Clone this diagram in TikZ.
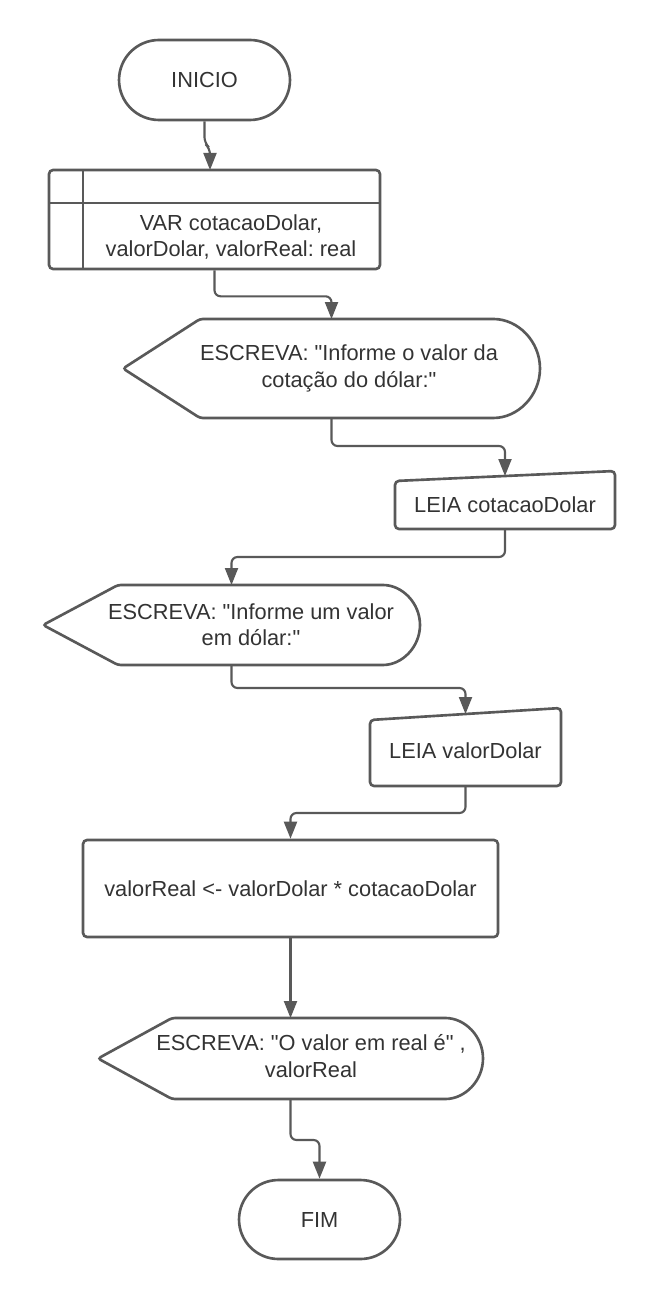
\documentclass[tikz,border=0pt]{standalone}
\usepackage{fontspec}
\setmainfont{Liberation Sans}[Ligatures=TeXOff]
\frenchspacing
\usetikzlibrary{arrows.meta,calc}
\definecolor{ln}{HTML}{595959}
\definecolor{tx}{HTML}{333333}
\begin{document}
\begin{tikzpicture}[x=0.02cm,y=-0.02cm,
  shp/.style={draw=ln, line width=1.5pt, fill=white},
  box/.style={shp, rounded corners=0.08cm, inner sep=0pt},
  ghost/.style={inner sep=0pt, outer sep=0pt, draw=none},
  txt/.style={text=tx, font=\fontsize{12.4}{15}\selectfont\frenchspacing, align=center},
  conn/.style={draw=ln, line width=1.2pt, rounded corners=0.12cm, -{Triangle[width=0.26cm,length=0.34cm]}}]

\useasboundingbox[fill=white] (0,0) rectangle (655,1300);

% INICIO
\node[shp, txt, inner sep=0pt, minimum width=3.42cm, minimum height=1.6cm, rounded corners=0.8cm] (ini) at (204.5,80) {INICIO};

% VAR box
\node[box, minimum width=6.62cm, minimum height=1.98cm] (var) at (214.5,219.5) {};
\draw[draw=ln, line width=1.5pt] (49,203) -- (380,203);
\draw[draw=ln, line width=1.5pt] (83,170) -- (83,269);
\node[txt] (vart) at (231,237) {VAR cotacaoDolar,\\valorDolar, valorReal: real};

% Display 1
\node[ghost, minimum width=8.34cm, minimum height=1.98cm] (d1) at (331.5,368.5) {};
\draw[shp, rounded corners=0.06cm] (d1.west) -- (200,319) -- (490.5,319) arc[start angle=90, end angle=-90, radius=0.99cm] -- (200,418) -- cycle;
\node[txt] (d1t) at (349,368.5) {ESCREVA: "Informe o valor da\\cotação do dólar:"};

% LEIA 1
\node[ghost, minimum width=4.4cm, minimum height=1.16cm] (l1) at (505,500) {};
\draw[shp, rounded corners=0.08cm] (395,481) -- (615,471) -- (615,529) -- (395,529) -- cycle;
\node[txt] (l1t) at (505,505) {LEIA cotacaoDolar};
\coordinate (l1in) at (505,476);

% Display 2
\node[ghost, minimum width=7.54cm, minimum height=1.6cm] (d2) at (231.5,625) {};
\draw[shp, rounded corners=0.06cm] (d2.west) -- (118,585) -- (380,585) arc[start angle=90, end angle=-90, radius=0.8cm] -- (118,665) -- cycle;
\node[txt] (d2t) at (251,625) {ESCREVA: "Informe um valor\\em dólar:"};

% LEIA 2
\node[ghost, minimum width=3.82cm, minimum height=1.56cm] (l2) at (465.5,747) {};
\draw[shp, rounded corners=0.08cm] (370,720) -- (561,708) -- (561,786) -- (370,786) -- cycle;
\node[txt] (l2t) at (465.5,751) {LEIA valorDolar};
\coordinate (l2in) at (465.5,714);

% Process
\node[box, txt, minimum width=8.3cm, minimum height=1.94cm] (pr) at (290.5,888.5) {valorReal <- valorDolar * cotacaoDolar};

% Display 3
\node[ghost, minimum width=7.7cm, minimum height=1.62cm] (d3) at (290.5,1058.5) {};
\draw[shp, rounded corners=0.06cm] (d3.west) -- (172,1018) -- (442.5,1018) arc[start angle=90, end angle=-90, radius=0.81cm] -- (172,1099) -- cycle;
\node[txt] (d3t) at (311,1056) {ESCREVA: "O valor em real é" ,\\valorReal};

% FIM
\node[shp, txt, inner sep=0pt, minimum width=3.22cm, minimum height=1.58cm, rounded corners=0.79cm] (fim) at (319.5,1219.5) {FIM};

% Connectors
\coordinate (varin) at (210,170);
\draw[conn] (ini.south) -- ++(0,22) -- ++(5.5,5) -- (varin);
\draw[conn] (var.south) -- ++(0,26) -| (d1.north);
\draw[conn] (d1.south) -- ++(0,28) -| (l1in);
\draw[conn] (l1.south) -- ++(0,28) -| (d2.north);
\draw[conn] (d2.south) -- ++(0,23) -| (l2in);
\draw[conn] (l2.south) -- ++(0,27) -| (pr.north);
\draw[conn] (pr.south) -- (d3.north);
\draw[conn] (d3.south) -- ++(0,41) -| (fim.north);
\end{tikzpicture}
\end{document}
